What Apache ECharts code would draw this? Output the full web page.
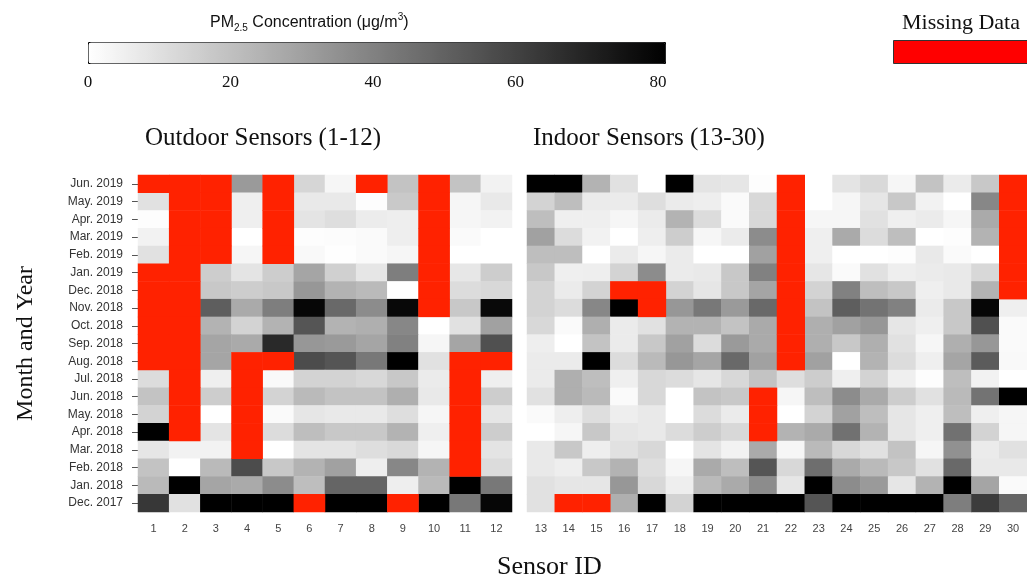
<!DOCTYPE html>
<html><head><meta charset="utf-8">
<script src="https://cdn.jsdelivr.net/npm/echarts@6/dist/echarts.min.js"></script>
<style>html,body{margin:0;padding:0;background:#fff}#c{width:1027px;height:583px}</style>
</head><body><div id="c"></div>
<script>
// Month categories, top row first
const months = ['Jun. 2019','May. 2019','Apr. 2019','Mar. 2019','Feb. 2019','Jan. 2019','Dec. 2018','Nov. 2018','Oct. 2018','Sep. 2018','Aug. 2018','Jul. 2018','Jun. 2018','May. 2018','Apr. 2018','Mar. 2018','Feb. 2018','Jan. 2018','Dec. 2017'];
const outdoorIds = ['1','2','3','4','5','6','7','8','9','10','11','12'];
const indoorIds = ['13','14','15','16','17','18','19','20','21','22','23','24','25','26','27','28','29','30'];
const colorbarTicks = [0, 20, 40, 60, 80];
const colorMin = 0, colorMax = 81;
const N = null; // missing data

// PM2.5 (ug/m3), one row per month (same order as months), one column per sensor
const outdoorValues = [
  [N, N, N, 32, N, 13, 3, N, 19, N, 19, 4],
  [9.5, N, N, 5, N, 7, 7, 0.5, 17, N, 3, 7],
  [0.5, N, N, 5, N, 8.5, 10.5, 6, 5.5, N, 3, 4],
  [4, N, N, 0, N, 0.6, 1, 1.5, 5.5, N, 1.5, 0],
  [9.5, N, N, 3, N, 2, 0.3, 1.5, 3, N, 0, 0],
  [N, N, 16, 8.5, 16, 28.5, 15, 8, 41, N, 7.5, 16],
  [N, N, 17.5, 16, 17.5, 33, 24, 22, 0, N, 11, 12.5],
  [N, N, 51, 27, 41, 79, 47.5, 36.5, 78.5, N, 17.5, 78],
  [N, N, 24, 14, 24, 54, 24, 25.5, 38, 0, 9.5, 30],
  [N, N, 28.5, 27, 68, 33, 32, 28.5, 40, 3, 28.5, 55.5],
  [N, N, 28.5, N, N, 57, 54, 43, 81, 9.5, N, N],
  [11, N, 5, N, 2, 14, 14, 12.5, 17.5, 6.5, N, 5],
  [19, N, 16, N, 14, 22, 19, 19, 25.5, 7, N, 16],
  [14, N, 0, N, 1.5, 8, 7, 7, 10.5, 3, N, 8],
  [81, N, 8.5, N, 11, 20.5, 17.5, 17.5, 24, 5, N, 16],
  [8, 4, 4, N, 0, 8.5, 8.5, 10.5, 12, 3, N, 8.5],
  [19, 0, 22, 57, 17.5, 24, 30, 5.5, 38, 24, N, 11],
  [22, 81, 28.5, 27, 36.5, 20.5, 49, 49, 5.5, 22, 81, 43],
  [63.5, 9.5, 81, 81, 81, N, 81, 81, N, 81, 43, 79]
];
const indoorValues = [
  [81, 81, 24, 9.5, 0, 81, 8.5, 8, 0.5, N, 0, 8.5, 12, 3, 19, 6.5, 17.5, N],
  [14, 20.5, 6.5, 6.5, 10.5, 6.5, 5.5, 1.5, 12.5, N, 0, 3, 8, 17.5, 4, 0, 38, N],
  [20.5, 5, 5, 3, 6.5, 24, 11, 1.5, 12.5, N, 3, 3, 9.5, 5, 6.5, 3, 27, N],
  [30, 11, 4, 0, 5.5, 16, 3, 6.5, 36.5, N, 5, 27, 11, 20.5, 0, 0.5, 24, N],
  [20.5, 20.5, 0, 6.5, 3, 6.5, 0, 0, 30, N, 5, 0, 0, 0.5, 7, 1.5, 0, N],
  [17.5, 5, 5.5, 14, 36.5, 6.5, 7, 17.5, 40, N, 8, 1.5, 9.5, 5.5, 6.5, 7, 12.5, N],
  [14, 6.5, 14, N, N, 14, 8, 17.5, 28.5, N, 14, 40, 20.5, 17.5, 5, 7, 24, N],
  [14, 11, 38, 81, N, 33, 43, 32, 47.5, N, 19, 51, 44.5, 40, 6.5, 17.5, 79, 5],
  [12.5, 1.5, 25.5, 6.5, 9.5, 24, 24, 19, 27, N, 25.5, 30, 33, 8, 5, 17.5, 55.5, 1.5],
  [5.5, 0, 19, 6.5, 17.5, 30, 11, 32, 27, N, 25.5, 17.5, 25.5, 9.5, 3, 25.5, 33, 1.5],
  [6.5, 6.5, 81, 11, 22, 33, 28.5, 47.5, 30, N, 30, 0, 24, 11, 5, 28.5, 52, 2],
  [6.5, 25.5, 20.5, 5, 12.5, 11, 8, 12.5, 19, 10.5, 16, 5, 14, 5, 0.5, 20.5, 4, 0],
  [9.5, 25.5, 22, 1.5, 12.5, 0, 19, 17.5, N, 3, 20.5, 36.5, 27, 16, 9.5, 22, 44.5, 81],
  [1.5, 5.5, 10.5, 5.5, 7, 0, 11, 6.5, N, 0, 14, 30, 20.5, 8, 5, 20.5, 5, 3],
  [0, 3, 17.5, 8, 7, 11, 16, 12.5, N, 24, 27, 45, 24, 8, 5, 45, 14, 3],
  [7, 17.5, 5.5, 9.5, 12.5, 0, 8.5, 4, 27, 3, 22, 12.5, 9.5, 19, 3, 35, 6.5, 9.5],
  [7, 5.5, 17.5, 24, 10.5, 3, 27, 20.5, 54, 12.5, 46, 27, 22, 17.5, 9.5, 47.5, 7, 7],
  [9.5, 8, 8, 33, 12.5, 5.5, 22, 27, 36.5, 8, 81, 36.5, 32, 8, 24, 81, 28.5, 1.5],
  [9.5, N, N, 25.5, 81, 14, 81, 81, 81, 81, 54, 81, 81, 81, 81, 41, 62, 49]
];

function split(rows) {
  const vals = [], miss = [];
  rows.forEach((r, i) => r.forEach((v, j) => {
    if (v === null) miss.push([j, i, 1]); else vals.push([j, i, v]);
  }));
  return { vals, miss };
}
const outd = split(outdoorValues), ind = split(indoorValues);

const SERIF = 'Liberation Serif';
const SANS = 'Liberation Sans';
const RED = '#ff2200';

const chart = echarts.init(document.getElementById('c'));
const catX = (gi, ids) => ({
  type: 'category', gridIndex: gi, data: ids,
  axisLine: { show: false }, axisTick: { show: false }, splitLine: { show: false },
  axisLabel: { margin: 11, fontSize: 11, color: '#444', fontFamily: SANS }
});
chart.setOption({
  animation: false,
  title: [
    { text: 'PM{sub|2.5} Concentration (μg/m{sup|3})', left: 210, top: 12, padding: 0,
      textStyle: { fontFamily: SANS, fontSize: 16, fontWeight: 'normal', color: '#111', lineHeight: 21,
        rich: { sub: { fontFamily: SANS, fontSize: 10, color: '#111', verticalAlign: 'bottom', lineHeight: 12 },
                sup: { fontFamily: SANS, fontSize: 10, color: '#111', verticalAlign: 'top', lineHeight: 12 } } } },
    { text: 'Missing Data', left: 902, top: 12, padding: 0,
      textStyle: { fontFamily: SERIF, fontSize: 22, fontWeight: 'normal', color: '#111' } },
    { text: 'Outdoor Sensors (1-12)', left: 145, top: 126, padding: 0,
      textStyle: { fontFamily: SERIF, fontSize: 25, fontWeight: 'normal', color: '#111' } },
    { text: 'Indoor Sensors (13-30)', left: 533, top: 126, padding: 0,
      textStyle: { fontFamily: SERIF, fontSize: 25, fontWeight: 'normal', color: '#111' } },
    { text: 'Sensor ID', left: 497, top: 554, padding: 0,
      textStyle: { fontFamily: SERIF, fontSize: 26, fontWeight: 'normal', color: '#111' } }
  ],
  legend: {
    data: [{ name: 'Missing Data', itemStyle: { color: '#ff0000', borderColor: '#333', borderWidth: 1 } }],
    left: 893, top: 40, padding: 0, itemWidth: 140, itemHeight: 23, icon: 'rect',
    formatter: () => '', selectedMode: false
  },
  grid: [
    { left: 138, top: 175, width: 374, height: 337 },
    { left: 527, top: 175, width: 505, height: 337 },
    { left: 88, top: 42, width: 577, height: 21 }
  ],
  xAxis: [
    catX(0, outdoorIds),
    catX(1, indoorIds),
    { type: 'value', gridIndex: 2, min: colorMin, max: colorMax, interval: 20,
      axisLine: { show: false }, axisTick: { show: false }, splitLine: { show: false },
      axisLabel: { margin: 11, fontSize: 17, color: '#111', fontFamily: SERIF,
        formatter: v => colorbarTicks.includes(v) ? String(v) : '' } }
  ],
  yAxis: [
    { type: 'category', gridIndex: 0, data: months, inverse: true,
      axisLine: { show: false },
      axisTick: { show: true, length: 6, alignWithLabel: true, lineStyle: { color: '#555' } },
      splitLine: { show: false },
      axisLabel: { margin: 15, fontSize: 12, color: '#333', fontFamily: SANS },
      name: 'Month and Year', nameLocation: 'middle', nameRotate: 90, nameGap: 100,
      nameTextStyle: { fontFamily: SERIF, fontSize: 24, color: '#111' } },
    { type: 'category', gridIndex: 1, data: months, inverse: true, show: false },
    { type: 'value', gridIndex: 2, show: false, min: 0, max: 1 }
  ],
  visualMap: [{
    type: 'continuous', min: colorMin, max: colorMax, seriesIndex: [0, 1],
    orient: 'horizontal', left: 88, top: 42, itemWidth: 21, itemHeight: 577,
    padding: 0, calculable: false, text: null, borderColor: '#000', borderWidth: 1,
    inRange: { color: ['#ffffff', '#000000'] }, hoverLink: false
  }],
  series: [
    { type: 'heatmap', name: 'Outdoor', xAxisIndex: 0, yAxisIndex: 0, data: outd.vals, emphasis: { disabled: true } },
    { type: 'heatmap', name: 'Indoor', xAxisIndex: 1, yAxisIndex: 1, data: ind.vals, emphasis: { disabled: true } },
    { type: 'heatmap', name: 'Missing Data', xAxisIndex: 0, yAxisIndex: 0, data: outd.miss, itemStyle: { color: RED }, emphasis: { disabled: true } },
    { type: 'heatmap', name: 'Missing Data', xAxisIndex: 1, yAxisIndex: 1, data: ind.miss, itemStyle: { color: RED }, emphasis: { disabled: true } }
  ]
});
</script></body></html>
